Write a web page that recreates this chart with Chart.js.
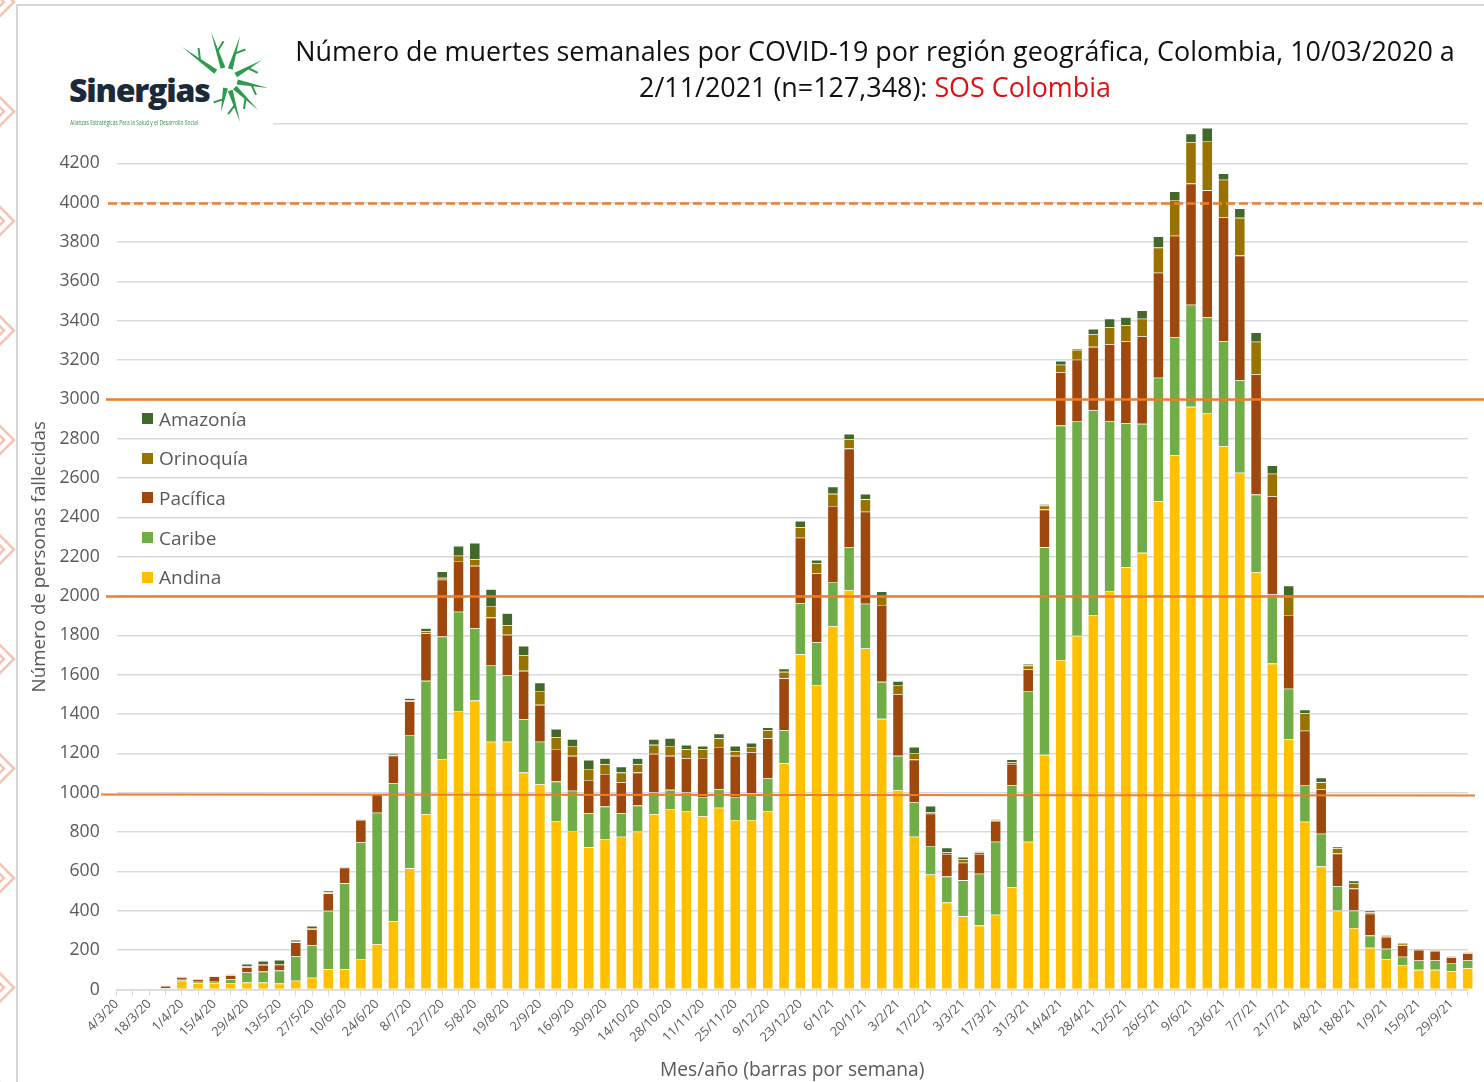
<!DOCTYPE html>
<html>
<head>
<meta charset="utf-8">
<script src="https://cdn.jsdelivr.net/npm/chart.js@4.4.1/dist/chart.umd.min.js"></script>
<style>
  body { margin: 0; background: #fff; }
  #wrap { position: relative; width: 1484px; height: 1082px; overflow: hidden; font-family: 'Open Sans', sans-serif; }
  #chart { position: absolute; left: 0; top: 0; }
  #frameTop { position: absolute; left: 17px; top: 4px; width: 1467px; height: 2px; background: #d6d6d6; }
  #frameLeft { position: absolute; left: 16px; top: 4px; width: 2px; height: 1078px; background: #d6d6d6; }
  #chevrons { position: absolute; left: 0; top: 0; }
  #logo { position: absolute; left: 18px; top: 8px; width: 255px; height: 118px; background: #fff; }
  #logo .name { position: absolute; left: 51px; top: 62px; font-family: 'Open Sans', sans-serif; font-weight: 800; font-size: 32px; letter-spacing: -1.2px; color: #1b2a3a; line-height: 40px; }
  #logo .sub { position: absolute; left: 52px; top: 109px; font-size: 8px; color: #3d8c4f; white-space: nowrap; transform: scale(0.62, 0.85); transform-origin: left top; }
  #logo svg { position: absolute; left: 0; top: 0; }
  #title { position: absolute; left: 240px; top: 33px; width: 1270px; text-align: center; font-size: 26.9px; line-height: 36px; color: #111; }
  #title span { color: #e01010; }
  #legend { position: absolute; left: 142px; top: 399px; }
  #legend .item { height: 39.6px; display: flex; align-items: center; font-size: 19px; color: #595959; }
  #legend .box { width: 11px; height: 11px; margin-right: 6px; }
</style>
</head>
<body>
<div id="wrap">
  <canvas id="chart" width="1484" height="1082"></canvas>
  <div id="frameTop"></div>
  <div id="frameLeft"></div>
  <svg id="chevrons" width="16" height="1082"></svg>
  <div id="logo">
    <svg width="255" height="118" id="burst"></svg>
    <div class="name">Sinergias</div>
    <div class="sub">Alianzas Estratégicas Para la Salud y el Desarrollo Social</div>
  </div>
  <div id="title">Número de muertes semanales por COVID-19 por región geográfica, Colombia, 10/03/2020 a<br>2/11/2021 (n=127,348): <span>SOS Colombia</span></div>
  <div id="legend"></div>
</div>
<script>
// semanas (inicio de semana)
const weeks = [
  '4/3/20','11/3/20','18/3/20','25/3/20','1/4/20','8/4/20','15/4/20','22/4/20','29/4/20','6/5/20',
  '13/5/20','20/5/20','27/5/20','3/6/20','10/6/20','17/6/20','24/6/20','1/7/20','8/7/20','15/7/20',
  '22/7/20','29/7/20','5/8/20','12/8/20','19/8/20','26/8/20','2/9/20','9/9/20','16/9/20','23/9/20',
  '30/9/20','7/10/20','14/10/20','21/10/20','28/10/20','4/11/20','11/11/20','18/11/20','25/11/20','2/12/20',
  '9/12/20','16/12/20','23/12/20','30/12/20','6/1/21','13/1/21','20/1/21','27/1/21','3/2/21','10/2/21',
  '17/2/21','24/2/21','3/3/21','10/3/21','17/3/21','24/3/21','31/3/21','7/4/21','14/4/21','21/4/21',
  '28/4/21','5/5/21','12/5/21','19/5/21','26/5/21','2/6/21','9/6/21','16/6/21','23/6/21','30/6/21',
  '7/7/21','14/7/21','21/7/21','28/7/21','4/8/21','11/8/21','18/8/21','25/8/21','1/9/21','8/9/21',
  '15/9/21','22/9/21','29/9/21','6/10/21'
]

// muertes semanales por region
const andina = [
  0,0,0,5,45,31,31,31,35,35, 30,45,60,104,104,155,231,348,616,892,
  1172,1416,1469,1260,1260,1103,1044,857,806,723, 765,777,803,892,918,908,881,924,862,862,
  905,1150,1704,1548,1847,2030,1734,1376,1013,777, 585,442,372,325,380,520,751,1193,1675,1798,
  1904,2026,2146,2220,2482,2716,2962,2931,2762,2627, 2122,1657,1271,853,625,401,313,212,154,125,
  100,100,93,108
]
const caribe = [
  0,0,0,3,5,9,9,22,52,56, 66,125,166,296,436,594,668,701,678,677,
  622,505,368,390,338,271,216,200,205,173, 165,119,132,111,97,95,98,94,117,136,
  168,168,260,218,225,217,227,188,175,174, 145,132,183,264,371,517,767,1055,1192,1092,
  1041,862,733,656,628,600,519,487,534,471, 394,351,258,187,167,125,88,62,53,42,
  48,48,42,40
]
const pacifica = [
  0,0,0,10,13,12,26,20,26,34, 30,70,81,89,79,113,94,140,170,242,
  289,258,317,241,205,246,187,166,177,169, 166,158,168,195,173,173,198,215,209,209,
  204,264,333,349,386,503,468,391,314,218, 164,115,90,100,106,110,109,192,272,312,
  322,393,417,445,534,516,616,645,630,633, 611,500,375,276,226,165,112,111,61,58,
  53,48,29,37
]
const orinoquia = [
  0,0,0,1,1,1,2,2,4,4, 4,3,5,4,2,2,3,4,5,9,
  10,26,34,59,49,78,71,60,50,56, 49,49,42,46,50,46,43,44,22,26,
  41,33,53,51,62,48,63,43,46,32, 6,9,16,9,3,9,20,20,37,50,
  63,86,80,89,128,182,211,251,191,192, 166,114,96,88,35,27,26,8,6,8,
  3,3,5,4
]
const amazonia = [
  0,0,0,1,1,0,2,2,13,16, 20,9,11,9,3,2,2,8,12,17,
  32,50,83,85,61,49,42,42,35,46, 31,30,31,29,40,22,19,24,29,21,
  15,16,32,18,37,27,28,26,20,32, 34,23,13,4,5,14,8,8,20,7,
  28,43,42,42,57,43,43,66,32,48, 47,43,53,19,24,8,14,8,5,3,
  3,2,3,2
]

const regionNames = ['Andina', 'Caribe', 'Pacífica', 'Orinoquía', 'Amazonía']
const regionColors = ['#FFC000', '#70AD47', '#9E480E', '#997300', '#43682B']
const series = [andina, caribe, pacifica, orinoquia, amazonia]

// lineas de referencia
const refValues = [1000, 2000, 3000, 4000]

const datasets = series.map((d, i) => ({
    label: regionNames[i],
    data: d,
    backgroundColor: regionColors[i],
    borderColor: 'rgba(255,255,255,0.35)',
    borderWidth: 0.6,
    barPercentage: 0.66,
    categoryPercentage: 1,
    clip: false
}))

// Orange threshold lines drawn over the bars
const refLines = {
    id: 'refLines',
    afterDatasetsDraw(chart) {
        const ctx = chart.ctx
        const y = chart.scales.y
        ctx.save()
        ctx.strokeStyle = '#ED7D31'
        refValues.forEach(v => {
            const py = Math.round(y.getPixelForValue(v)) + 0.5
            ctx.beginPath()
            if (v === 4000) {
                ctx.setLineDash([9, 4])
                ctx.lineWidth = 2.5
                ctx.moveTo(108, py); ctx.lineTo(1484, py)
            } else if (v === 1000) {
                ctx.setLineDash([])
                ctx.lineWidth = 1.8
                ctx.moveTo(101, py + 1); ctx.lineTo(1475, py + 2)
            } else {
                ctx.setLineDash([])
                ctx.lineWidth = 2.5
                ctx.moveTo(106, py); ctx.lineTo(1484, py)
            }
            ctx.stroke()
        })
        ctx.restore()
    }
}

Chart.defaults.font.family = "'Open Sans', sans-serif"
Chart.defaults.color = '#595959'

const chart = new Chart(document.getElementById('chart'), {
    type: 'bar',
    data: { labels: weeks, datasets },
    options: {
        responsive: false,
        animation: false,
        layout: { padding: { top: 124, right: 16.3, left: 0, bottom: 0 } },
        plugins: { legend: { display: false }, tooltip: { enabled: false } },
        scales: {
            x: {
                stacked: true,
                offset: false,
                grid: { drawOnChartArea: false, drawTicks: true, tickLength: 6, color: '#d9d9d9', offset: false },
                border: { color: '#d9d9d9', width: 1.5 },
                ticks: {
                    autoSkip: false,
                    maxRotation: 45,
                    minRotation: 45,
                    padding: 1,
                    font: { size: 12.8 },
                    callback: (v, i) => (i % 2 === 0 ? weeks[i] : '')
                },
                title: { display: true, text: 'Mes/año (barras por semana)', font: { size: 19.2 }, padding: { top: 0, bottom: 0 } },
                afterFit: s => { s.height = 92.5 }
            },
            y: {
                stacked: true,
                min: 0,
                max: 4400,
                grid: { color: '#d9d9d9', lineWidth: 1.4, drawTicks: false },
                border: { display: false },
                ticks: {
                    stepSize: 200,
                    padding: 17,
                    font: { size: 17.6 },
                    callback: v => (v === 4400 ? '' : v)
                },
                title: { display: true, text: 'Número de personas fallecidas', font: { size: 18.8 }, padding: { top: 28, bottom: 0 } },
                afterFit: s => { s.width = 116.7 }
            }
        }
    },
    plugins: [refLines]
})

// Legend (top series first)
const legend = document.getElementById('legend')
for (let i = regionNames.length - 1; i >= 0; i--) {
    const item = document.createElement('div')
    item.className = 'item'
    item.innerHTML = '<div class="box" style="background:' + regionColors[i] + '"></div>' + regionNames[i]
    legend.appendChild(item)
}

// decoracion del borde izquierdo
const chev = document.getElementById('chevrons')
let chevHtml = ''
for (let cy = 2; cy < 1100; cy += 109.5) {
    chevHtml += '<polyline points="-8,' + (cy - 22) + ' 14,' + cy + ' -8,' + (cy + 22) + '" fill="none" stroke="#f6c3b5" stroke-width="2.5"/>'
    chevHtml += '<polyline points="-8,' + (cy - 12) + ' 4,' + cy + ' -8,' + (cy + 12) + '" fill="none" stroke="#f6c3b5" stroke-width="2.5"/>'
}
chev.innerHTML = chevHtml

// logo: green burst
const tips = [[164, 39], [193, 24], [222, 28], [244, 52], [250, 80], [240, 102], [222, 114], [203, 104]]
const cx = 209, cyy = 72
let burst = ''
tips.forEach(t => {
    const dx = t[0] - cx, dy = t[1] - cyy
    const len = Math.hypot(dx, dy)
    const nx = -dy / len, ny = dx / len
    const bx = cx + dx * 0.25, by = cyy + dy * 0.25
    burst += '<polygon points="' + (bx + nx * 2.5) + ',' + (by + ny * 2.5) + ' ' + t[0] + ',' + t[1] + ' ' + (bx - nx * 2.5) + ',' + (by - ny * 2.5) + '" fill="#2e9a4c"/>'
    const mx = cx + dx * 0.6, my = cyy + dy * 0.6
    burst += '<line x1="' + mx + '" y1="' + my + '" x2="' + (mx + nx * 9 + dx * 0.15) + '" y2="' + (my + ny * 9 + dy * 0.15) + '" stroke="#2e9a4c" stroke-width="2"/>'
})
document.getElementById('burst').innerHTML = burst
</script>
</body>
</html>
